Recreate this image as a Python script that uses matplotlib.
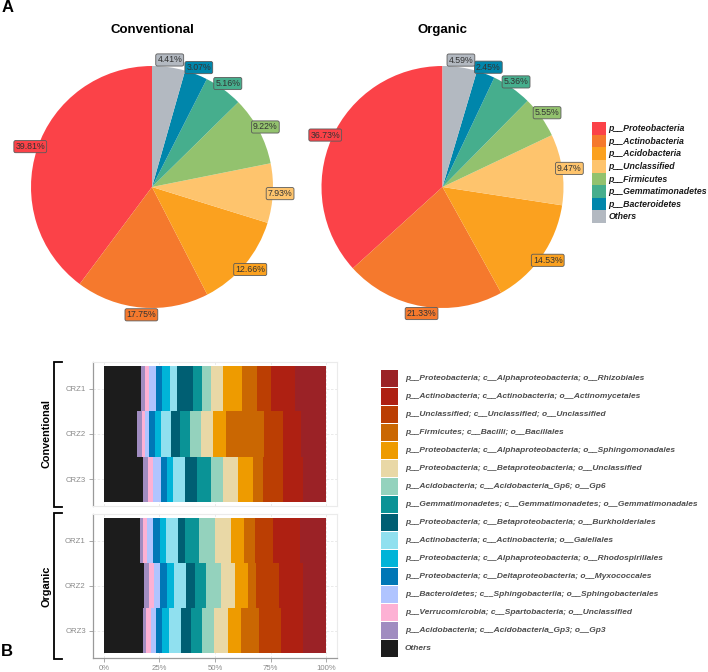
import numpy as np
import matplotlib
matplotlib.use("Agg")
import matplotlib.pyplot as plt
from matplotlib.patches import Rectangle
from matplotlib.lines import Line2D

plt.rcParams['font.family'] = ['Liberation Sans', 'DejaVu Sans']

# ---------------- Data ----------------
phyla = ["p__Proteobacteria", "p__Actinobacteria", "p__Acidobacteria", "p__Unclassified",
         "p__Firmicutes", "p__Gemmatimonadetes", "p__Bacteroidetes", "Others"]
phyla_colors = ["#FB4248", "#F5792D", "#FBA11F", "#FEC46D", "#93C26E", "#46AE8D", "#0086AB", "#B3B9C1"]
conventional_pct = [39.81, 17.75, 12.66, 7.93, 9.22, 5.16, 3.07, 4.41]
organic_pct = [36.73, 21.33, 14.53, 9.47, 5.55, 5.36, 2.45, 4.59]

orders = ["p__Proteobacteria; c__Alphaproteobacteria; o__Rhizobiales",
          "p__Actinobacteria; c__Actinobacteria; o__Actinomycetales",
          "p__Unclassified; c__Unclassified; o__Unclassified",
          "p__Firmicutes; c__Bacilli; o__Bacillales",
          "p__Proteobacteria; c__Alphaproteobacteria; o__Sphingomonadales",
          "p__Proteobacteria; c__Betaproteobacteria; o__Unclassified",
          "p__Acidobacteria; c__Acidobacteria_Gp6; o__Gp6",
          "p__Gemmatimonadetes; c__Gemmatimonadetes; o__Gemmatimonadales",
          "p__Proteobacteria; c__Betaproteobacteria; o__Burkholderiales",
          "p__Actinobacteria; c__Actinobacteria; o__Gaiellales",
          "p__Proteobacteria; c__Alphaproteobacteria; o__Rhodospirillales",
          "p__Proteobacteria; c__Deltaproteobacteria; o__Myxococcales",
          "p__Bacteroidetes; c__Sphingobacteriia; o__Sphingobacteriales",
          "p__Verrucomicrobia; c__Spartobacteria; o__Unclassified",
          "p__Acidobacteria; c__Acidobacteria_Gp3; o__Gp3",
          "Others"]
order_colors = ["#9B2226", "#AE2012", "#BB3E03", "#CA6702", "#EE9B00", "#E9D8A6", "#94D2BD",
                "#0A9396", "#005F73", "#90E0EF", "#00B4D8", "#0077B6", "#B0C4FF", "#FDB1D4",
                "#A08CC0", "#1C1C1C"]

conv_samples = ["CRZ1", "CRZ2", "CRZ3"]
org_samples = ["ORZ1", "ORZ2", "ORZ3"]
CRZ1 = [14.2, 10.8, 6.3, 6.5, 8.5, 5.3, 4.2, 4.3, 6.9, 3.3, 3.5, 2.8, 3.2, 1.8, 1.8, 16.6]
CRZ2 = [11.1, 8.4, 8.5, 17.1, 6.0, 5.1, 5.1, 4.5, 4.2, 4.2, 2.9, 2.5, 1.7, 1.6, 2.1, 15.0]
CRZ3 = [10.3, 9.2, 9.1, 4.2, 6.9, 6.8, 5.1, 6.6, 5.1, 5.7, 2.8, 2.6, 3.6, 2.2, 2.0, 17.8]
ORZ1 = [11.8, 12.0, 8.3, 4.9, 5.6, 7.5, 7.2, 6.3, 3.1, 5.4, 2.7, 3.3, 2.3, 1.8, 1.6, 16.2]
ORZ2 = [10.6, 10.7, 10.3, 3.5, 6.0, 6.3, 6.7, 5.0, 4.0, 5.4, 3.2, 3.1, 2.7, 2.3, 2.2, 18.0]
ORZ3 = [10.3, 10.2, 9.6, 8.3, 5.7, 6.4, 5.4, 5.1, 4.4, 5.4, 3.1, 2.7, 2.0, 2.5, 1.5, 17.4]
x_ticks = [0, 25, 50, 75, 100]
x_ticklabels = ["0%", "25%", "50%", "75%", "100%"]

# ---------------- Figure ----------------
W, H = 708, 672
fig = plt.figure(figsize=(W / 100, H / 100), dpi=100)


def rect(x, y_top, w, h):
    return [x / W, 1 - (y_top + h) / H, w / W, h / H]


def fx(x):
    return x / W


def fy(y):
    return 1 - y / H


fig.text(fx(2), fy(8), "A", fontsize=12, fontweight='bold', va='center', ha='left')
fig.text(fx(1), fy(651), "B", fontsize=12, fontweight='bold', va='center', ha='left')

# ---------------- Pies ----------------
R = 121.0
half = 150.0


def draw_pie(cx, cy, vals, title):
    ax = fig.add_axes(rect(cx - half, cy - half, 2 * half, 2 * half))
    wedges, _ = ax.pie(vals, colors=phyla_colors, startangle=90, counterclock=True,
                       radius=1.0, wedgeprops=dict(linewidth=0))
    lim = half / R
    ax.set_xlim(-lim, lim)
    ax.set_ylim(-lim, lim)
    ax.set_aspect('equal')
    ax.axis('off')
    for w, v, c in zip(wedges, vals, phyla_colors):
        ang = np.deg2rad((w.theta1 + w.theta2) / 2)
        r = 1.06
        ax.text(r * np.cos(ang), r * np.sin(ang), f"{v:.2f}%", ha='center', va='center',
                fontsize=6.3, color='#333333', clip_on=False,
                bbox=dict(boxstyle='round,pad=0.18,rounding_size=0.2', fc=c, ec='#5a5a5a', lw=0.6))
    fig.text(fx(cx), fy(30), title, ha='center', va='center', fontsize=9.5, fontweight='bold')


draw_pie(152, 187, conventional_pct, "Conventional")
draw_pie(442.5, 187, organic_pct, "Organic")

# pie legend
for i, (lab, c) in enumerate(zip(phyla, phyla_colors)):
    top = 122.3 + i * 12.6
    fig.patches.append(Rectangle((fx(591.7), fy(top + 12.6)), 14 / W, 12.6 / H,
                                 transform=fig.transFigure, fc=c, ec='none'))
    fig.text(fx(608.5), fy(top + 6.3), lab, ha='left', va='center', fontsize=6.3,
             fontweight='bold', style='italic', color='#1a1a1a')

# ---------------- Stacked bars ----------------
def draw_panel(top, samples, data, bottom_axis):
    ax = fig.add_axes(rect(92.7, top, 244.6, 144.5))
    ypos = np.arange(1, len(samples) + 1)
    left = np.zeros(len(samples))
    arr = np.array(data)
    for j in range(len(orders) - 1, -1, -1):
        vals = arr[:, j]
        ax.barh(ypos, vals, left=left, height=1.0, color=order_colors[j], linewidth=0, zorder=2)
        left = left + vals
    ax.set_xlim(-5, 105)
    ax.set_ylim(3.6, 0.4)
    ax.set_yticks(ypos)
    ax.set_yticklabels(samples, fontsize=5.6, color='#8a8a8a')
    ax.set_xticks(x_ticks)
    for xv in x_ticks:
        ax.axvline(xv, color='#e6e6e6', lw=0.6, ls=(0, (3, 2)), zorder=0)
    for yv in ypos:
        ax.axhline(yv, color='#e6e6e6', lw=0.6, ls=(0, (3, 2)), zorder=0)
    for s in ['top', 'right']:
        ax.spines[s].set_color('#ebebeb')
        ax.spines[s].set_linewidth(0.8)
    ax.spines['left'].set_color('#9a9a9a')
    ax.spines['left'].set_linewidth(0.9)
    ax.tick_params(axis='y', length=3, width=0.6, color='#9a9a9a', pad=2)
    if bottom_axis:
        ax.spines['bottom'].set_color('#9a9a9a')
        ax.spines['bottom'].set_linewidth(0.9)
        ax.set_xticklabels(x_ticklabels, fontsize=5.6, color='#8a8a8a')
        ax.tick_params(axis='x', length=3, width=0.6, color='#9a9a9a', pad=2)
    else:
        ax.spines['bottom'].set_color('#ebebeb')
        ax.spines['bottom'].set_linewidth(0.8)
        ax.tick_params(axis='x', length=0, labelbottom=False)
    return ax


draw_panel(361.7, conv_samples, [CRZ1, CRZ2, CRZ3], False)
draw_panel(513.5, org_samples, [ORZ1, ORZ2, ORZ3], True)


def bracket(y0, y1, label, ly):
    xs = [fx(61.7), fx(54.3), fx(54.3), fx(61.7)]
    ys = [fy(y0), fy(y0), fy(y1), fy(y1)]
    fig.lines.append(Line2D(xs, ys, transform=fig.transFigure, color='black', lw=1.3,
                            solid_joinstyle='miter'))
    fig.text(fx(47), fy(ly), label, rotation=90, ha='center', va='center',
             fontsize=7.8, fontweight='bold')


bracket(361.7, 506.7, "Conventional", 434)
bracket(513.3, 659.3, "Organic", 586.5)

# bar legend
for i, (lab, c) in enumerate(zip(orders, order_colors)):
    top = 370 + i * 18
    fig.patches.append(Rectangle((fx(381), fy(top + 17)), 17 / W, 17 / H,
                                 transform=fig.transFigure, fc=c, ec='none'))
    fig.text(fx(405), fy(top + 8.5), lab, ha='left', va='center', fontsize=6.05,
             fontweight='bold', style='italic', color='#4d4d4d')

fig.savefig("out.png", dpi=100)
